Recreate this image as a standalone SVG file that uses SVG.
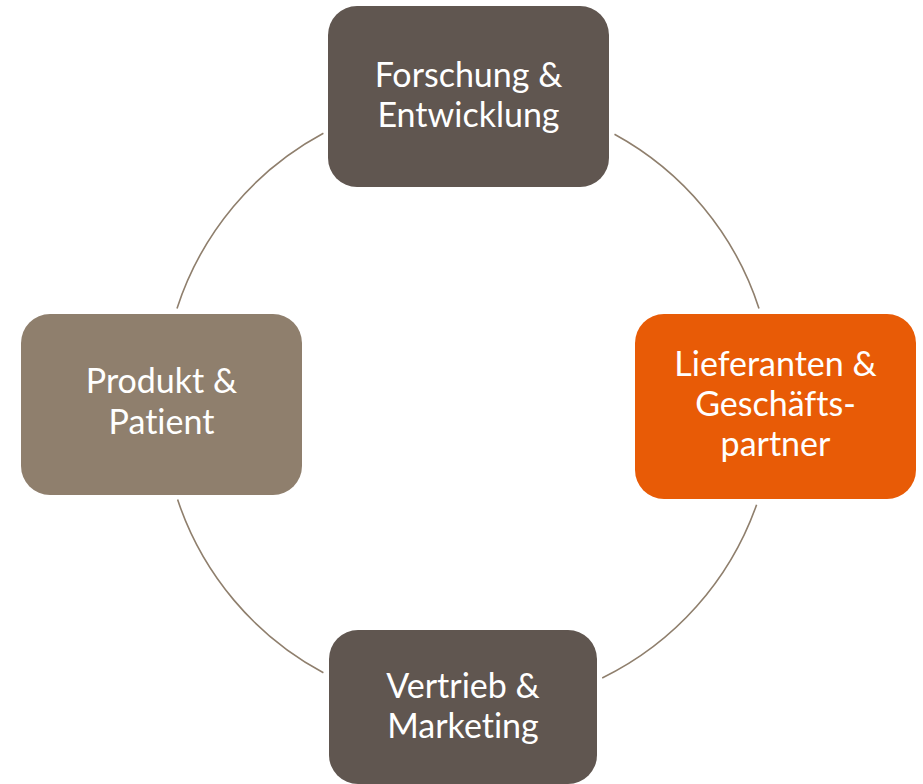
<svg xmlns="http://www.w3.org/2000/svg" width="923" height="784" viewBox="0 0 923 784">
<style>
.box{stroke:none}
.dark{fill:#605650}
.tan{fill:#8f7f6d}
.orange{fill:#e85b06}
.lbl{font-family:Lato,"Open Sans","Liberation Sans",sans-serif;font-size:34px;fill:#ffffff;text-anchor:middle;font-variant-ligatures:none;font-feature-settings:"liga" 0}
.arc{fill:none;stroke:#8f7f6d;stroke-width:1.6}
</style>
<rect width="923" height="784" fill="#ffffff"/>
<g id="connectors">
<path class="arc" d="M177.0 308.4 A306 306 0 0 1 323.4 133.3"/>
<path class="arc" d="M614.5 134.3 A306 306 0 0 1 759.0 308.4"/>
<path class="arc" d="M756.6 504.7 A306 306 0 0 1 602.2 678.0"/>
<path class="arc" d="M323.4 672.7 A306 306 0 0 1 177.6 499.6"/>
</g>
<g id="node-forschung">
<rect class="box dark" x="328" y="6" width="281" height="181" rx="29"/>
<text class="lbl" x="468.5" y="87">Forschung &amp;</text>
<text class="lbl" x="468.5" y="127">Entwicklung</text>
</g>
<g id="node-produkt">
<rect class="box tan" x="21" y="314" width="281" height="181" rx="29"/>
<text class="lbl" x="161.5" y="393">Produkt &amp;</text>
<text class="lbl" x="161.5" y="434">Patient</text>
</g>
<g id="node-lieferanten">
<rect class="box orange" x="635" y="314" width="281" height="185" rx="29"/>
<text class="lbl" x="775.5" y="376">Lieferanten &amp;</text>
<text class="lbl" x="775.5" y="416">Geschäfts-</text>
<text class="lbl" x="775.5" y="456">partner</text>
</g>
<g id="node-vertrieb">
<rect class="box dark" x="329" y="630" width="268" height="154" rx="29"/>
<text class="lbl" x="463" y="698">Vertrieb &amp;</text>
<text class="lbl" x="463" y="738">Marketing</text>
</g>
</svg>
